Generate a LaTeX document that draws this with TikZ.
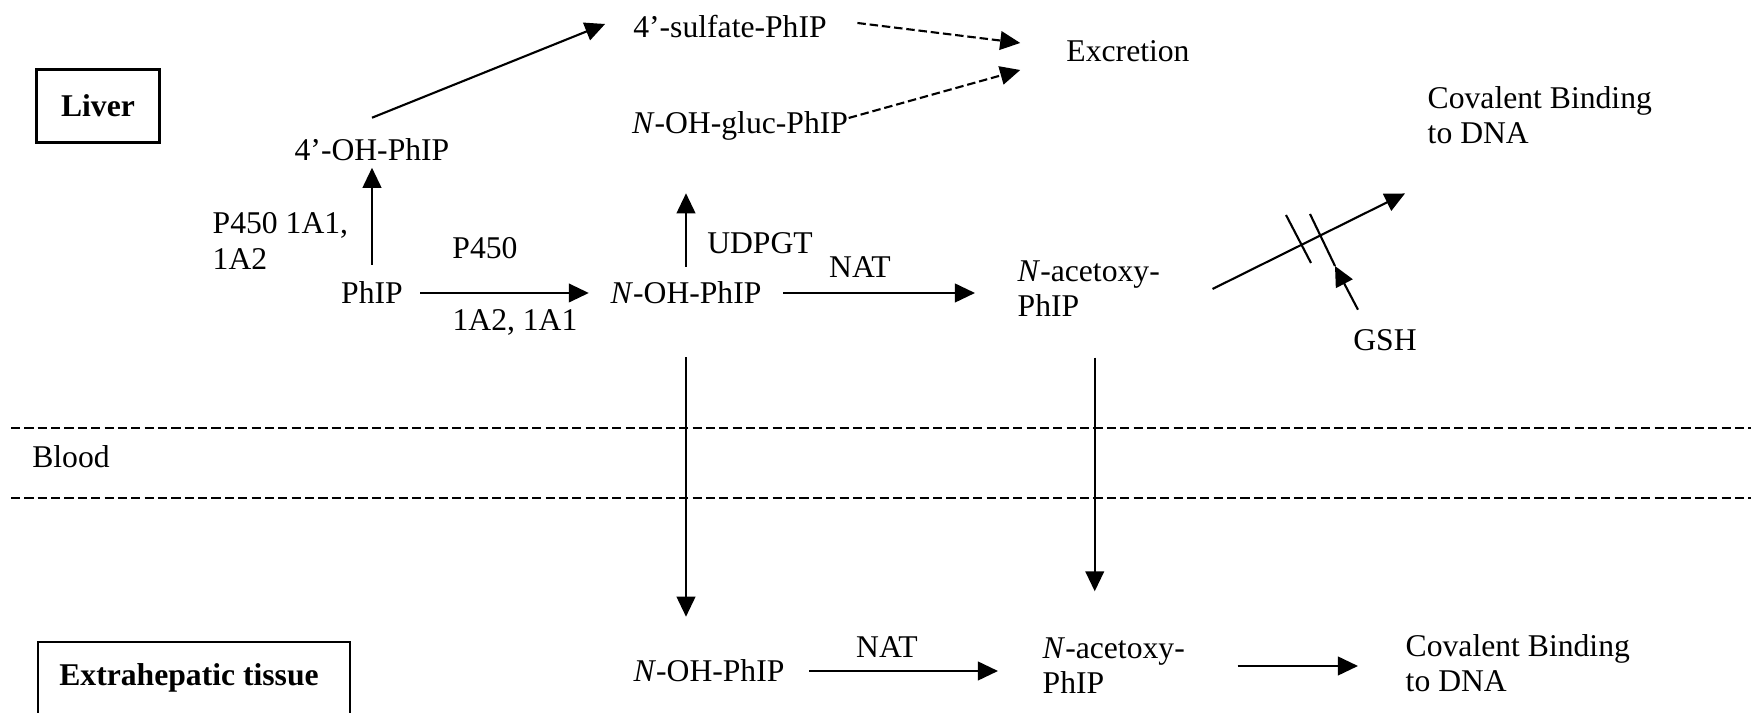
\documentclass[tikz,border=0pt]{standalone}
\usepackage{fontspec}
\setmainfont{Liberation Serif}
\usetikzlibrary{arrows.meta}

\begin{document}
\begin{tikzpicture}[x=0.01cm, y=-0.01cm, font=\fontsize{9}{10}\selectfont,
    chem/.style={inner sep=0pt, text height=6pt, text depth=0pt},
    twoline/.style={inner sep=0pt, align=left, anchor=west},
    arr/.style={-{Triangle[length=5.7pt, width=5.3pt]}, line width=0.6pt},
    darr/.style={arr, dash pattern=on 2.4pt off 1.1pt},
    sepline/.style={line width=0.6pt, dash pattern=on 2.6pt off 1.2pt}]
    \useasboundingbox (0,0) rectangle (1751,713);

    % Liver compartment
    \node[draw, line width=0.6pt, minimum width=1.23cm, minimum height=0.73cm,
          font=\fontsize{9}{10}\selectfont\bfseries] (liver) at (98,106) {Liver};

    \node[chem] (phip) at (372,293) {PhIP};
    \node[chem] (ohphip4) at (372,150) {4’-OH-PhIP};
    \node[chem] (sulfate) at (730,27) {4’-sulfate-PhIP};
    \node[chem] (gluc) at (740,123) {\textit{N}-OH-gluc-PhIP};
    \node[chem] (excr) at (1128,51) {Excretion};
    \node[chem] (noh) at (686,293) {\textit{N}-OH-PhIP};
    \node[twoline] (acet) at (1017,289) {\textit{N}-acetoxy-\\PhIP};
    \node[twoline] (covtop) at (1427,115) {Covalent Binding\\to DNA};
    \node[chem] (gsh) at (1385,340) {GSH};

    % Enzyme labels
    \node[twoline] (cyp4) at (212,241) {P450 1A1,\\1A2};
    \node[chem] (cypa) at (485,248) {P450};
    \node[chem] (cypb) at (515,320) {1A2, 1A1};
    \node[chem] (udpgt) at (760,243) {UDPGT};
    \node[chem] (nat1) at (860,267) {NAT};

    % Liver arrows
    \draw[arr, shorten <=0.17cm, shorten >=0.065cm] (phip.north) -- (ohphip4.south);
    \draw[arr] ([yshift=0.21cm]ohphip4.north) -- ([xshift=-0.275cm, yshift=0.03cm]sulfate.west);
    \draw[darr] ([xshift=0.3cm, yshift=0.04cm]sulfate.east) -- ([xshift=-0.455cm, yshift=0.08cm]excr.west);
    \draw[darr] ([yshift=0.05cm]gluc.east) -- ([xshift=-0.455cm, yshift=-0.19cm]excr.west);
    \draw[arr, shorten <=0.165cm, shorten >=0.21cm] (phip.east) -- (noh.west);
    \draw[arr, shorten <=0.15cm, shorten >=0.59cm] (noh.north) -- (noh.north |- gluc.south);
    \draw[arr, shorten <=0.21cm, shorten >=0.42cm] (noh.east) -- (noh.east -| acet.west);
    \draw[arr] ([xshift=0.52cm]acet.east) -- ([xshift=-0.22cm, yshift=-0.49cm]covtop.south west);

    % GSH block
    \coordinate (cut) at (1335,266);
    \draw[line width=0.6pt] (1286,215) -- (1311,263);
    \draw[line width=0.6pt] (1310,214) -- (cut);
    \draw[arr] ([xshift=-0.27cm, yshift=0.19cm]gsh.north) -- (cut);

    % Blood
    \draw[sepline] (11,428) -- (1751,428);
    \draw[sepline] (11,498) -- (1751,498);
    \node[chem] (blood) at (71,457) {Blood};

    % Extrahepatic tissue
    \node[chem, font=\fontsize{9}{10}\selectfont\bfseries] (extra) at (189,675) {Extrahepatic tissue};
    \draw[line width=0.6pt] (38,713) -- (38,642) -- (350,642) -- (350,713);

    \node[chem] (noh2) at (709,671) {\textit{N}-OH-PhIP};
    \node[twoline] (acet2) at (1042,666) {\textit{N}-acetoxy-\\PhIP};
    \node[twoline] (covbot) at (1405,663) {Covalent Binding\\to DNA};
    \node[chem] (nat2) at (887,647) {NAT};

    \draw[arr, shorten <=0.24cm, shorten >=0.44cm] (noh2.east) -- (noh2.east -| acet2.west);
    \draw[arr, shorten <=0.52cm, shorten >=0.47cm] (acet2.east) -- (acet2.east -| covbot.west);

    % Liver to tissue
    \draw[arr, shorten <=0.53cm, shorten >=0.43cm] (noh.south) -- (noh.south |- noh2.north);
    \draw[arr, shorten <=0.40cm, shorten >=0.46cm] ([xshift=0.06cm]acet.south) -- ([xshift=0.06cm]acet.south |- acet2.north);
\end{tikzpicture}
\end{document}
